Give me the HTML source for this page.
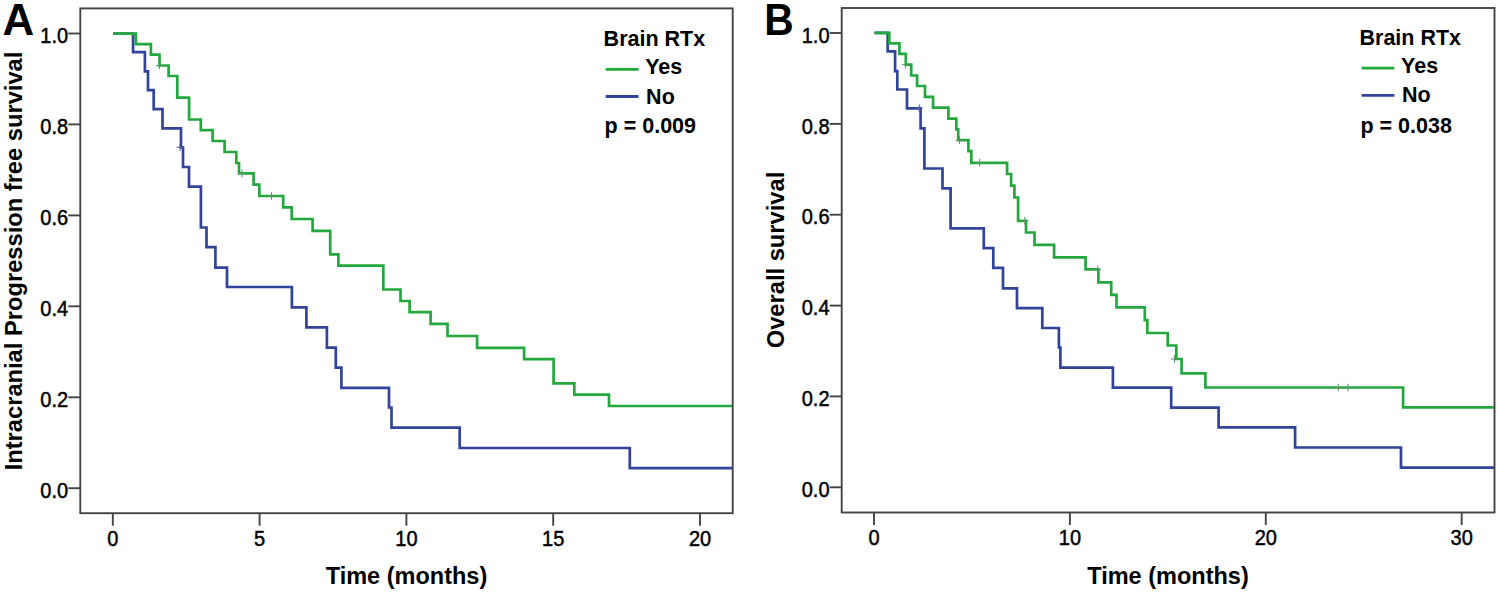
<!DOCTYPE html>
<html><head><meta charset="utf-8"><style>
html,body{margin:0;padding:0;background:#fff;}
body{width:1499px;height:597px;overflow:hidden;}
svg{display:block;}
text{font-family:"Liberation Sans",sans-serif;fill:#000;}
.tk{font-size:20px;stroke:#000;stroke-width:0.45px;}
.ax{font-size:23.5px;font-weight:bold;}
.lg{font-size:21.5px;font-weight:bold;}
.pl{font-size:42px;font-weight:bold;}
</style></head><body>
<svg width="1499" height="597" viewBox="0 0 1499 597">
<rect width="1499" height="597" fill="#fff"/>
<rect x="80.3" y="8.4" width="652.4000000000001" height="504.80000000000007" fill="none" stroke="#444444" stroke-width="1.9"/><line x1="68.3" y1="488.2" x2="80.3" y2="488.2" stroke="#444444" stroke-width="1.9"/><text transform="translate(68.1,497.8) scale(1.0,1.065)" text-anchor="end" class="tk">0.0</text><line x1="68.3" y1="397.3" x2="80.3" y2="397.3" stroke="#444444" stroke-width="1.9"/><text transform="translate(68.1,406.9) scale(1.0,1.065)" text-anchor="end" class="tk">0.2</text><line x1="68.3" y1="306.3" x2="80.3" y2="306.3" stroke="#444444" stroke-width="1.9"/><text transform="translate(68.1,315.9) scale(1.0,1.065)" text-anchor="end" class="tk">0.4</text><line x1="68.3" y1="215.4" x2="80.3" y2="215.4" stroke="#444444" stroke-width="1.9"/><text transform="translate(68.1,225.0) scale(1.0,1.065)" text-anchor="end" class="tk">0.6</text><line x1="68.3" y1="124.4" x2="80.3" y2="124.4" stroke="#444444" stroke-width="1.9"/><text transform="translate(68.1,134.0) scale(1.0,1.065)" text-anchor="end" class="tk">0.8</text><line x1="68.3" y1="33.5" x2="80.3" y2="33.5" stroke="#444444" stroke-width="1.9"/><text transform="translate(68.1,43.1) scale(1.0,1.065)" text-anchor="end" class="tk">1.0</text><line x1="112.8" y1="513.2" x2="112.8" y2="525.7" stroke="#444444" stroke-width="1.9"/><text transform="translate(112.8,545.8) scale(1.0,1.065)" text-anchor="middle" class="tk">0</text><line x1="259.6" y1="513.2" x2="259.6" y2="525.7" stroke="#444444" stroke-width="1.9"/><text transform="translate(259.6,545.8) scale(1.0,1.065)" text-anchor="middle" class="tk">5</text><line x1="406.4" y1="513.2" x2="406.4" y2="525.7" stroke="#444444" stroke-width="1.9"/><text transform="translate(406.4,545.8) scale(1.0,1.065)" text-anchor="middle" class="tk">10</text><line x1="553.2" y1="513.2" x2="553.2" y2="525.7" stroke="#444444" stroke-width="1.9"/><text transform="translate(553.2,545.8) scale(1.0,1.065)" text-anchor="middle" class="tk">15</text><line x1="700.0" y1="513.2" x2="700.0" y2="525.7" stroke="#444444" stroke-width="1.9"/><text transform="translate(700.0,545.8) scale(1.0,1.065)" text-anchor="middle" class="tk">20</text><path d="M113.0 33.7 L133.1 33.7 L133.1 52.2 L144.9 52.2 L144.9 71.3 L148.0 71.3 L148.0 90.2 L153.7 90.2 L153.7 109.1 L162.5 109.1 L162.5 128.4 L181.0 128.4 L181.0 147.3 L183.0 147.3 L183.0 167.0 L189.0 167.0 L189.0 186.6 L200.9 186.6 L200.9 227.5 L206.5 227.5 L206.5 247.1 L215.4 247.1 L215.4 267.7 L227.0 267.7 L227.0 287.0 L291.9 287.0 L291.9 307.4 L306.4 307.4 L306.4 327.4 L326.9 327.4 L326.9 347.7 L335.8 347.7 L335.8 367.7 L341.4 367.7 L341.4 387.8 L389.0 387.8 L389.0 407.5 L391.5 407.5 L391.5 427.7 L459.7 427.7 L459.7 448.0 L629.8 448.0 L629.8 468.2 L732.0 468.2" stroke="#32449a" stroke-width="2.7" fill="none" stroke-linejoin="miter" stroke-linecap="butt"/><path d="M113.0 33.7 L135.9 33.7 L135.9 44.1 L150.9 44.1 L150.9 54.6 L159.5 54.6 L159.5 65.5 L168.6 65.5 L168.6 76.0 L177.3 76.0 L177.3 97.7 L189.1 97.7 L189.1 119.5 L200.8 119.5 L200.8 130.2 L212.6 130.2 L212.6 141.0 L224.6 141.0 L224.6 152.0 L236.3 152.0 L236.3 163.0 L239.0 163.0 L239.0 173.4 L253.6 173.4 L253.6 184.7 L259.3 184.7 L259.3 196.0 L283.2 196.0 L283.2 207.3 L291.7 207.3 L291.7 219.0 L312.6 219.0 L312.6 230.9 L330.2 230.9 L330.2 254.3 L338.4 254.3 L338.4 265.6 L383.3 265.6 L383.3 289.5 L400.5 289.5 L400.5 301.0 L409.6 301.0 L409.6 312.2 L430.6 312.2 L430.6 323.8 L447.5 323.8 L447.5 336.0 L477.1 336.0 L477.1 347.8 L524.1 347.8 L524.1 359.1 L553.6 359.1 L553.6 383.3 L574.3 383.3 L574.3 394.7 L609.0 394.7 L609.0 406.0 L732.0 406.0" stroke="#24a83e" stroke-width="2.7" fill="none" stroke-linejoin="miter" stroke-linecap="butt"/><path d="M159.5 61.7 V69.3 M155.9 65.5 H163.1" stroke="#5c9268" stroke-width="1.05" fill="none"/><path d="M271.5 192.2 V199.8 M267.9 196.0 H275.1" stroke="#5c9268" stroke-width="1.05" fill="none"/><path d="M242.0 169.6 V177.2 M238.4 173.4 H245.6" stroke="#5c9268" stroke-width="1.05" fill="none"/><path d="M180.0 143.5 V151.1 M176.4 147.3 H183.6" stroke="#55609a" stroke-width="1.05" fill="none"/><text transform="translate(2.6,34.9) scale(1.045,1.04)" class="pl">A</text><text transform="translate(22,261) rotate(-90) scale(1,1.0)" text-anchor="middle" class="ax" style="font-size:23.7px">Intracranial Progression free survival</text><text transform="translate(406.5,584.2) scale(1,1.0)" text-anchor="middle" class="ax">Time (months)</text><text transform="translate(603.6,45.7) scale(1,1.0)" class="lg">Brain RTx</text><line x1="605.7" y1="69.4" x2="638.5" y2="69.4" stroke="#22aa38" stroke-width="2.8"/><text transform="translate(645.2,73.9) scale(1,1.0)" class="lg">Yes</text><line x1="605.7" y1="96.5" x2="638.5" y2="96.5" stroke="#32449a" stroke-width="2.8"/><text transform="translate(646.1,103.5) scale(1,1.0)" class="lg">No</text><text transform="translate(604.6,132.8) scale(1,1.04)" class="lg">p = 0.009</text><rect x="841.7" y="8.0" width="652.8" height="504.5" fill="none" stroke="#444444" stroke-width="1.9"/><line x1="829.7" y1="487.3" x2="841.7" y2="487.3" stroke="#444444" stroke-width="1.9"/><text transform="translate(829.5,496.9) scale(1.0,1.065)" text-anchor="end" class="tk">0.0</text><line x1="829.7" y1="396.4" x2="841.7" y2="396.4" stroke="#444444" stroke-width="1.9"/><text transform="translate(829.5,406.0) scale(1.0,1.065)" text-anchor="end" class="tk">0.2</text><line x1="829.7" y1="305.6" x2="841.7" y2="305.6" stroke="#444444" stroke-width="1.9"/><text transform="translate(829.5,315.2) scale(1.0,1.065)" text-anchor="end" class="tk">0.4</text><line x1="829.7" y1="214.7" x2="841.7" y2="214.7" stroke="#444444" stroke-width="1.9"/><text transform="translate(829.5,224.3) scale(1.0,1.065)" text-anchor="end" class="tk">0.6</text><line x1="829.7" y1="123.9" x2="841.7" y2="123.9" stroke="#444444" stroke-width="1.9"/><text transform="translate(829.5,133.5) scale(1.0,1.065)" text-anchor="end" class="tk">0.8</text><line x1="829.7" y1="33.0" x2="841.7" y2="33.0" stroke="#444444" stroke-width="1.9"/><text transform="translate(829.5,42.6) scale(1.0,1.065)" text-anchor="end" class="tk">1.0</text><line x1="874.0" y1="512.5" x2="874.0" y2="525.0" stroke="#444444" stroke-width="1.9"/><text transform="translate(874.0,545.1) scale(1.0,1.065)" text-anchor="middle" class="tk">0</text><line x1="1069.9" y1="512.5" x2="1069.9" y2="525.0" stroke="#444444" stroke-width="1.9"/><text transform="translate(1069.9,545.1) scale(1.0,1.065)" text-anchor="middle" class="tk">10</text><line x1="1265.8" y1="512.5" x2="1265.8" y2="525.0" stroke="#444444" stroke-width="1.9"/><text transform="translate(1265.8,545.1) scale(1.0,1.065)" text-anchor="middle" class="tk">20</text><line x1="1461.7" y1="512.5" x2="1461.7" y2="525.0" stroke="#444444" stroke-width="1.9"/><text transform="translate(1461.7,545.1) scale(1.0,1.065)" text-anchor="middle" class="tk">30</text><path d="M874.5 32.9 L887.7 32.9 L887.7 51.4 L895.1 51.4 L895.1 71.2 L897.3 71.2 L897.3 89.5 L907.0 89.5 L907.0 108.3 L920.6 108.3 L920.6 128.3 L924.4 128.3 L924.4 168.5 L942.5 168.5 L942.5 188.3 L950.6 188.3 L950.6 228.3 L983.8 228.3 L983.8 248.1 L993.3 248.1 L993.3 267.9 L1003.0 267.9 L1003.0 288.4 L1017.0 288.4 L1017.0 308.1 L1042.3 308.1 L1042.3 328.0 L1058.9 328.0 L1058.9 347.5 L1060.4 347.5 L1060.4 367.6 L1112.9 367.6 L1112.9 387.6 L1171.2 387.6 L1171.2 407.6 L1218.6 407.6 L1218.6 427.4 L1295.1 427.4 L1295.1 447.5 L1401.0 447.5 L1401.0 467.6 L1494.0 467.6" stroke="#32449a" stroke-width="2.7" fill="none" stroke-linejoin="miter" stroke-linecap="butt"/><path d="M874.5 32.9 L889.3 32.9 L889.3 43.3 L899.4 43.3 L899.4 53.8 L905.8 53.8 L905.8 64.7 L911.2 64.7 L911.2 75.5 L917.1 75.5 L917.1 86.0 L925.0 86.0 L925.0 96.9 L933.1 96.9 L933.1 107.7 L948.4 107.7 L948.4 118.6 L956.3 118.6 L956.3 129.4 L958.2 129.4 L958.2 140.2 L968.4 140.2 L968.4 151.1 L971.3 151.1 L971.3 162.8 L1007.1 162.8 L1007.1 174.0 L1011.1 174.0 L1011.1 185.7 L1014.4 185.7 L1014.4 197.5 L1018.1 197.5 L1018.1 220.8 L1026.0 220.8 L1026.0 232.5 L1034.5 232.5 L1034.5 244.8 L1054.1 244.8 L1054.1 257.3 L1085.6 257.3 L1085.6 269.3 L1098.4 269.3 L1098.4 282.3 L1111.2 282.3 L1111.2 294.8 L1116.5 294.8 L1116.5 307.4 L1144.8 307.4 L1144.8 320.1 L1147.3 320.1 L1147.3 333.0 L1167.7 333.0 L1167.7 345.5 L1176.3 345.5 L1176.3 359.0 L1181.6 359.0 L1181.6 373.3 L1205.4 373.3 L1205.4 387.5 L1403.1 387.5 L1403.1 407.3 L1494.0 407.3" stroke="#24a83e" stroke-width="2.7" fill="none" stroke-linejoin="miter" stroke-linecap="butt"/><path d="M905.5 60.9 V68.5 M901.9 64.7 H909.1" stroke="#5c9268" stroke-width="1.05" fill="none"/><path d="M959.5 136.4 V144.0 M955.9 140.2 H963.1" stroke="#5c9268" stroke-width="1.05" fill="none"/><path d="M979.6 159.0 V166.6 M976.0 162.8 H983.2" stroke="#5c9268" stroke-width="1.05" fill="none"/><path d="M1024.9 217.0 V224.6 M1021.3 220.8 H1028.5" stroke="#5c9268" stroke-width="1.05" fill="none"/><path d="M1097.7 265.5 V273.1 M1094.1 269.3 H1101.3" stroke="#5c9268" stroke-width="1.05" fill="none"/><path d="M1174.5 355.2 V362.8 M1170.9 359.0 H1178.1" stroke="#5c9268" stroke-width="1.05" fill="none"/><path d="M1338.3 383.7 V391.3 M1334.7 387.5 H1341.9" stroke="#5c9268" stroke-width="1.05" fill="none"/><path d="M1348.0 383.7 V391.3 M1344.4 387.5 H1351.6" stroke="#5c9268" stroke-width="1.05" fill="none"/><path d="M919.3 104.5 V112.1 M915.7 108.3 H922.9" stroke="#55609a" stroke-width="1.05" fill="none"/><text transform="translate(764.3,34.9) scale(0.97,1.04)" class="pl">B</text><text transform="translate(783.5,260) rotate(-90) scale(1,1.0)" text-anchor="middle" class="ax" style="font-size:23.7px">Overall survival</text><text transform="translate(1168,584.2) scale(1,1.0)" text-anchor="middle" class="ax">Time (months)</text><text transform="translate(1359.5,44.5) scale(1,1.0)" class="lg">Brain RTx</text><line x1="1361.6" y1="68.2" x2="1394.4" y2="68.2" stroke="#22aa38" stroke-width="2.8"/><text transform="translate(1401.1,72.7) scale(1,1.0)" class="lg">Yes</text><line x1="1361.6" y1="95.3" x2="1394.4" y2="95.3" stroke="#32449a" stroke-width="2.8"/><text transform="translate(1402.0,102.3) scale(1,1.0)" class="lg">No</text><text transform="translate(1360.5,132.8) scale(1,1.04)" class="lg">p = 0.038</text>
</svg>
</body></html>
